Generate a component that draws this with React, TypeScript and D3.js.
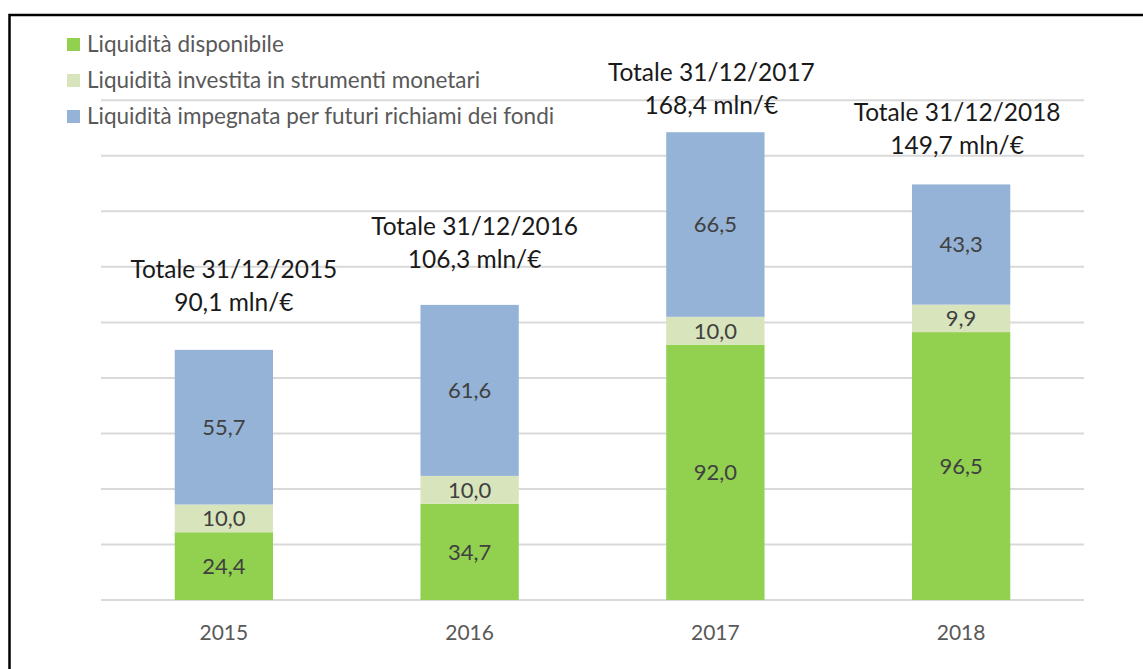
import React from "react";
import * as d3 from "d3";

const years = ["2015", "2016", "2017", "2018"];
const disponibile = [24.4, 34.7, 92.0, 96.5];
const investita = [10.0, 10.0, 10.0, 9.9];
const impegnata = [55.7, 61.6, 66.5, 43.3];
const totals = [90.1, 106.3, 168.4, 149.7];
const totalLabels = ["Totale 31/12/2015", "Totale 31/12/2016", "Totale 31/12/2017", "Totale 31/12/2018"];
const totalValues = ["90,1 mln/€", "106,3 mln/€", "168,4 mln/€", "149,7 mln/€"];
const seriesNames = [
  "Liquidità disponibile",
  "Liquidità investita in strumenti monetari",
  "Liquidità impegnata per futuri richiami dei fondi",
];
const yTicks = [0, 20, 40, 60, 80, 100, 120, 140, 160, 180];

const COLORS = ["#92D050", "#D8E4BC", "#95B3D7"];
// manual nudges of the "Totale" text boxes (layout, px)
const ANN_DX = [10, 5, -4, -4];
const ANN_DY = [72, 70, 52, 63];

const FONT = "Lato, 'Open Sans', sans-serif";

export default function App() {
  const W = 1143, H = 669;
  const x = d3.scaleBand<string>().domain(years).range([101, 1084]).paddingInner(0.6).paddingOuter(0.3);
  const y = d3.scaleLinear().domain([0, 180]).range([600, 100.3]);
  const stackInput = years.map((yr, i) => ({ year: yr, a: disponibile[i], b: investita[i], c: impegnata[i] }));
  const stacked = d3.stack<any>().keys(["a", "b", "c"])(stackInput);

  const fmt = (v: number) => v.toFixed(1).replace(".", ",");

  return (
    <div style={{ position: "fixed", left: 0, top: 0 }}>
      <svg width={W} height={H} style={{ display: "block", background: "#fff" }} fontFamily={FONT}>
        <rect x={0} y={0} width={W} height={H} fill="#fff" />
        {/* gridlines */}
        {yTicks.map((t) => (
          <line key={t} x1={101} x2={1084} y1={y(t)} y2={y(t)} stroke="#D9D9D9" strokeWidth={2} />
        ))}
        {/* bars */}
        {stacked.map((s, si) =>
          s.map((d, i) => (
            <rect
              key={`${si}-${i}`}
              x={x(years[i])}
              width={x.bandwidth()}
              y={y(d[1])}
              height={y(d[0]) - y(d[1])}
              fill={COLORS[si]}
            />
          ))
        )}
        {/* data labels */}
        {stacked.map((s, si) =>
          s.map((d, i) => (
            <text
              key={`l${si}-${i}`}
              x={(x(years[i]) as number) + x.bandwidth() / 2}
              y={(y(d[0]) + y(d[1])) / 2}
              dy="0.36em"
              textAnchor="middle"
              fontSize={22}
              fill="#404040"
            >
              {fmt(d[1] - d[0])}
            </text>
          ))
        )}
        {/* x axis labels */}
        {years.map((yr) => (
          <text
            key={yr}
            x={(x(yr) as number) + x.bandwidth() / 2}
            y={640}
            textAnchor="middle"
            fontSize={21}
            fill="#595959"
          >
            {yr}
          </text>
        ))}
        {/* total annotations */}
        {years.map((yr, i) => {
          const cx = (x(yr) as number) + x.bandwidth() / 2 + ANN_DX[i];
          const by = y(totals[i]) - ANN_DY[i];
          return (
            <g key={`t${yr}`}>
              <text x={cx} y={by} textAnchor="middle" fontSize={24.5} fill="#1a1a1a">
                {totalLabels[i]}
              </text>
              <text x={cx} y={by + 33} textAnchor="middle" fontSize={24.5} fill="#1a1a1a">
                {totalValues[i]}
              </text>
            </g>
          );
        })}
        {/* legend */}
        {seriesNames.map((n, i) => (
          <g key={n}>
            <rect x={67} y={38 + i * 36} width={13} height={13} fill={COLORS[i]} />
            <text x={87} y={52 + i * 36} fontSize={22.5} fill="#595959">
              {n}
            </text>
          </g>
        ))}
        {/* border */}
        <rect x={9.5} y={15} width={1150} height={680} fill="none" stroke="#000" strokeWidth={2.5} />
      </svg>
    </div>
  );
}
